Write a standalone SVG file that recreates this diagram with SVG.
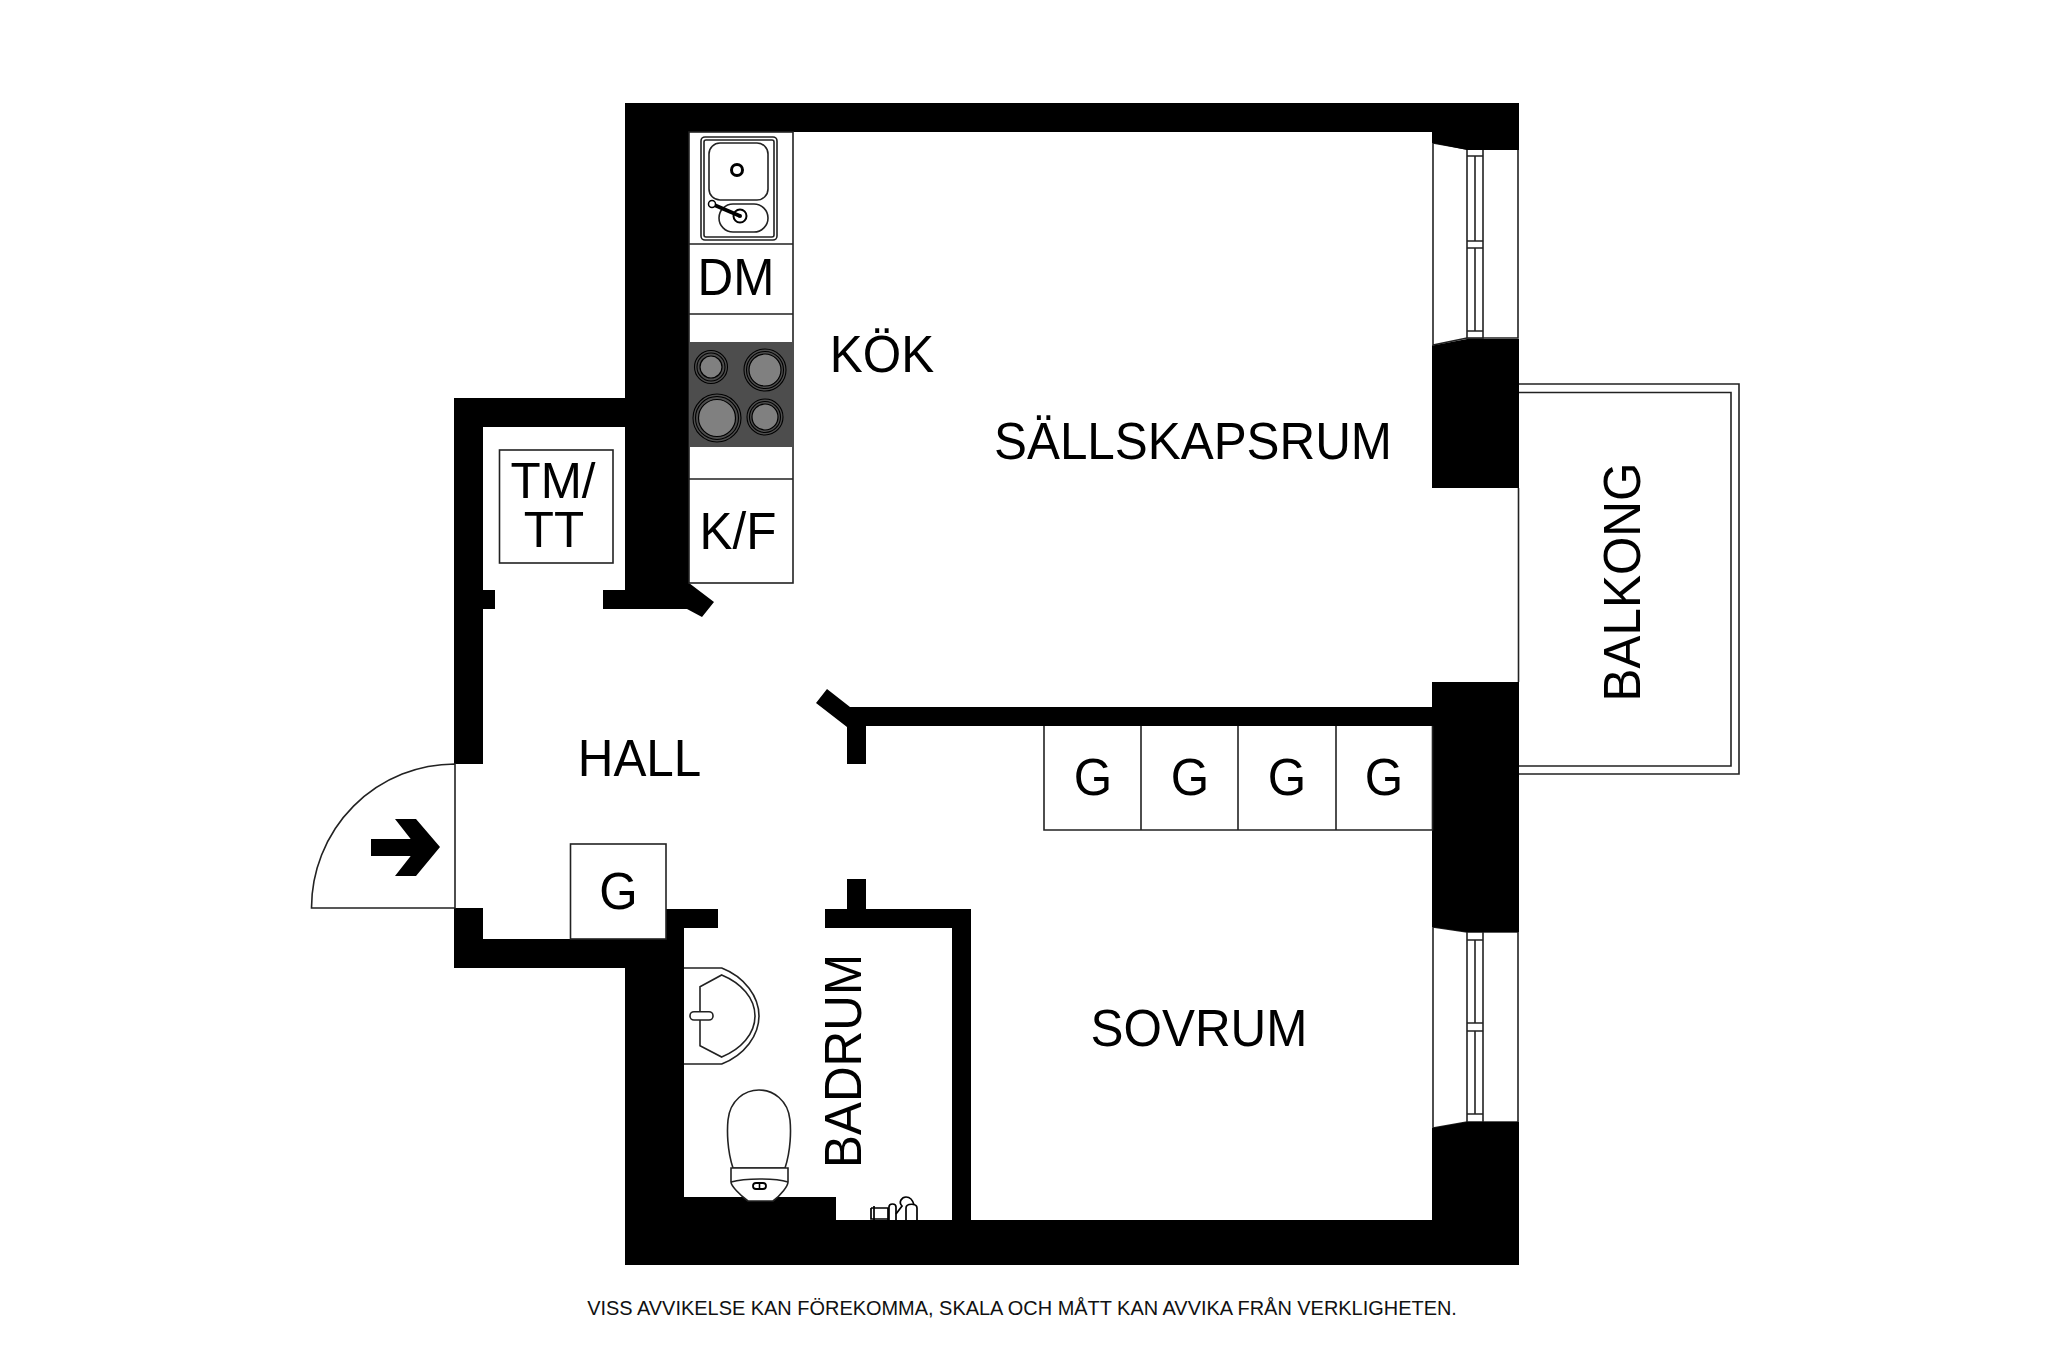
<svg xmlns="http://www.w3.org/2000/svg" width="2048" height="1365" viewBox="0 0 2048 1365">
<style>
.w{fill:#000}
.l{fill:#fff;stroke:#222;stroke-width:1.6}
.n{fill:none;stroke:#222;stroke-width:1.6}
.f{fill:none;stroke:#000;stroke-width:2}
.t{font-family:"Liberation Sans",Arial,sans-serif;font-size:49.400px;fill:#000;text-anchor:middle}
.b{fill:#808080;stroke:#000;stroke-width:1.200}
</style>
<defs>
<g id="win">
<path class="l" d="M0 0 L34 6 H85 V195 H34 L0 202 Z"/>
<rect class="l" x="34" y="6" width="16" height="189"/>
<path class="n" d="M42 13 V98 M42 105 V188 M34 13 H50 M34 98 H50 M34 105 H50 M34 188 H50"/>
</g>
<g id="win2">
<path class="l" d="M0 0 L34 5 H85 V195 H34 L0 201 Z"/>
<rect class="l" x="34" y="5" width="16" height="190"/>
<path class="n" d="M42 13 V96 M42 104 V187 M34 13 H50 M34 96 H50 M34 104 H50 M34 187 H50"/>
</g>
</defs>
<rect width="2048" height="1365" fill="#fff"/>

<g id="balkong">
<path class="n" d="M1519 384 H1739 V774 H1519 M1519 392.500 H1731 V766 H1519"/>
<path class="n" d="M1518.500 488 V682"/>
<text class="t" transform="translate(1640 582) rotate(-90) scale(1 1.050)">BALKONG</text>
</g>

<g id="windows">
<use href="#win" x="1433" y="143"/>
<use href="#win2" x="1433" y="927"/>
</g>

<g id="walls">
<path class="w" d="M625 103 H1519 V150 H1467 L1433 143 H1432 V132 H689 V583 L714 602 L702 617 L687 609 H603 V590 H625 V427 H483 V590 H495 V609 H483 V764 H454 V398 H625 Z"/>
<path class="w" d="M454 908 H483 V939 H666 V909 H718 V928 H684 V1197 H836 V1220 H952 V928 H825 V909 H847 V879 H866 V909 H971 V1220 H1432 V1128 H1433 L1467 1122 H1519 V1265 H625 V968 H454 Z"/>
<path class="w" d="M827 689 L850 707 H1433 V726 H866 V764 H847 V727 L816 703 Z"/>
<path class="w" d="M1432 345.500 H1433 L1467 339 H1519 V488 H1432 Z"/>
<path class="w" d="M1432 682 H1519 V932 H1467 L1433 927 H1432 Z"/>
</g>

<g id="door">
<path class="l" d="M455 764 V908 H311.500 A143.500 144 0 0 1 455 764 Z"/>
<path class="w" d="M371 839 H410.700 L395 819 H416 L440 847 L416 876 H395 L410.700 856 H371 Z"/>
</g>

<g id="kok-counter">
<rect class="l" x="689" y="132" width="104" height="451"/>
<path class="n" d="M689 244 H793 M689 314 H793 M689 479 H793"/>
<g id="sink">
<rect class="n" x="701" y="137" width="76" height="103" rx="4"/>
<rect class="n" x="704" y="140" width="70" height="97" rx="2"/>
<rect class="n" x="709" y="143" width="59" height="57" rx="11"/>
<rect class="n" x="719" y="204" width="49" height="28" rx="14"/>
<circle class="f" cx="737" cy="170" r="5.500" style="stroke-width:3"/>
<circle class="f" cx="740" cy="216" r="6.500"/>
<circle cx="740" cy="216" r="2" fill="#000"/>
<path d="M712 204 L740 216" stroke="#000" stroke-width="4" fill="none"/>
<circle cx="712" cy="204" r="3.500" fill="#fff" stroke="#000" stroke-width="1.500"/>
</g>
<g id="hob">
<rect x="689" y="342" width="104" height="105" fill="#4d4d4d"/>
<g fill="none" stroke="#000" stroke-width="1.100">
<circle cx="711" cy="367" r="16.500"/><circle cx="711" cy="367" r="14"/>
<circle cx="765" cy="370" r="21"/><circle cx="765" cy="370" r="18.500"/>
<circle cx="717" cy="418" r="24"/><circle cx="717" cy="418" r="21.500"/>
<circle cx="765" cy="417" r="18"/><circle cx="765" cy="417" r="15.500"/>
</g>
<circle class="b" cx="711" cy="367" r="11"/>
<circle class="b" cx="765" cy="370" r="16"/>
<circle class="b" cx="717" cy="418" r="18.500"/>
<circle class="b" cx="765" cy="417" r="13"/>
</g>
<text class="t" transform="translate(736 294.500) scale(1 1.050)">DM</text>
<text class="t" transform="translate(738 548.500) scale(1 1.050)">K/F</text>
</g>

<g id="tm-tt">
<rect class="l" x="499.500" y="450" width="113.500" height="113"/>
<text class="t"><tspan x="553" y="498">TM/</tspan><tspan x="554" y="547">TT</tspan></text>
</g>

<g id="hall-g">
<rect class="l" x="570.500" y="844" width="95.500" height="95"/>
<text class="t" transform="translate(618.500 909) scale(1 1.050)">G</text>
</g>

<g id="garderober">
<path class="l" d="M1044 726 V830 H1432.500 V726"/>
<path class="n" d="M1141 726 V830 M1238 726 V830 M1336 726 V830"/>
<text class="t" transform="translate(1093 794.500) scale(1 1.050)">G</text>
<text class="t" transform="translate(1190 794.500) scale(1 1.050)">G</text>
<text class="t" transform="translate(1287 794.500) scale(1 1.050)">G</text>
<text class="t" transform="translate(1384 794.500) scale(1 1.050)">G</text>
</g>

<g id="badrum">
<g id="basin">
<path class="n" d="M684 968 H721.700 C745 977 759 997 759 1016 C759 1035 745 1055 721.700 1064 H684"/>
<path class="n" d="M700 986.700 L721.700 975 C741 983 755 998 755 1016 C755 1034 741 1049 721.700 1057 L700 1045.700 Z"/>
<rect x="690" y="1011.700" width="23" height="8.300" rx="4" fill="#fff" stroke="#222" stroke-width="1.600"/>
</g>
<g id="wc">
<path class="l" d="M733 1168 C727 1150 727 1130 728 1120 C730 1100 745 1090 759 1090 C773 1090 788 1100 790 1120 C791 1130 791 1150 785 1168 Z"/>
<path class="l" d="M731 1168 H788 V1182 C788 1186 781 1195 773 1201 H748 C740 1195 731 1186 731 1182 Z"/>
<path class="n" d="M731 1182 C745 1178 775 1178 788 1182"/>
<rect x="753" y="1183" width="13" height="6" rx="3" fill="#fff" stroke="#000" stroke-width="1.800"/>
<path d="M759.500 1183 V1189" stroke="#000" stroke-width="1.600"/>
</g>
<g id="bath-fitting" fill="none" stroke="#000" stroke-width="1.700">
<path d="M871 1208 H888 V1220 M871 1208 V1219 H888 M874 1206 V1221"/>
<path d="M889 1220 V1207 C889 1203 896 1203 896 1207 V1220"/>
<path d="M896 1214 L902 1206 C898 1202 902 1197 906 1197 C911 1197 913 1201 914 1205"/>
<path d="M906 1220 V1208 C906 1203 917 1203 917 1208 V1220"/>
</g>
<text class="t" transform="translate(861 1061) rotate(-90) scale(1 1.050)">BADRUM</text>
</g>

<g id="labels">
<text class="t" transform="translate(882 371.500) scale(1 1.050)">KÖK</text>
<text class="t" transform="translate(1193 459) scale(1 1.050)">SÄLLSKAPSRUM</text>
<text class="t" transform="translate(639.500 775.500) scale(1 1.050)">HALL</text>
<text class="t" transform="translate(1199 1045.500) scale(1 1.050)">SOVRUM</text>
<text x="1022" y="1315" font-family="Liberation Sans, Arial, sans-serif" font-size="19.950" text-anchor="middle" fill="#111">VISS AVVIKELSE KAN FÖREKOMMA, SKALA OCH MÅTT KAN AVVIKA FRÅN VERKLIGHETEN.</text>
</g>
</svg>
